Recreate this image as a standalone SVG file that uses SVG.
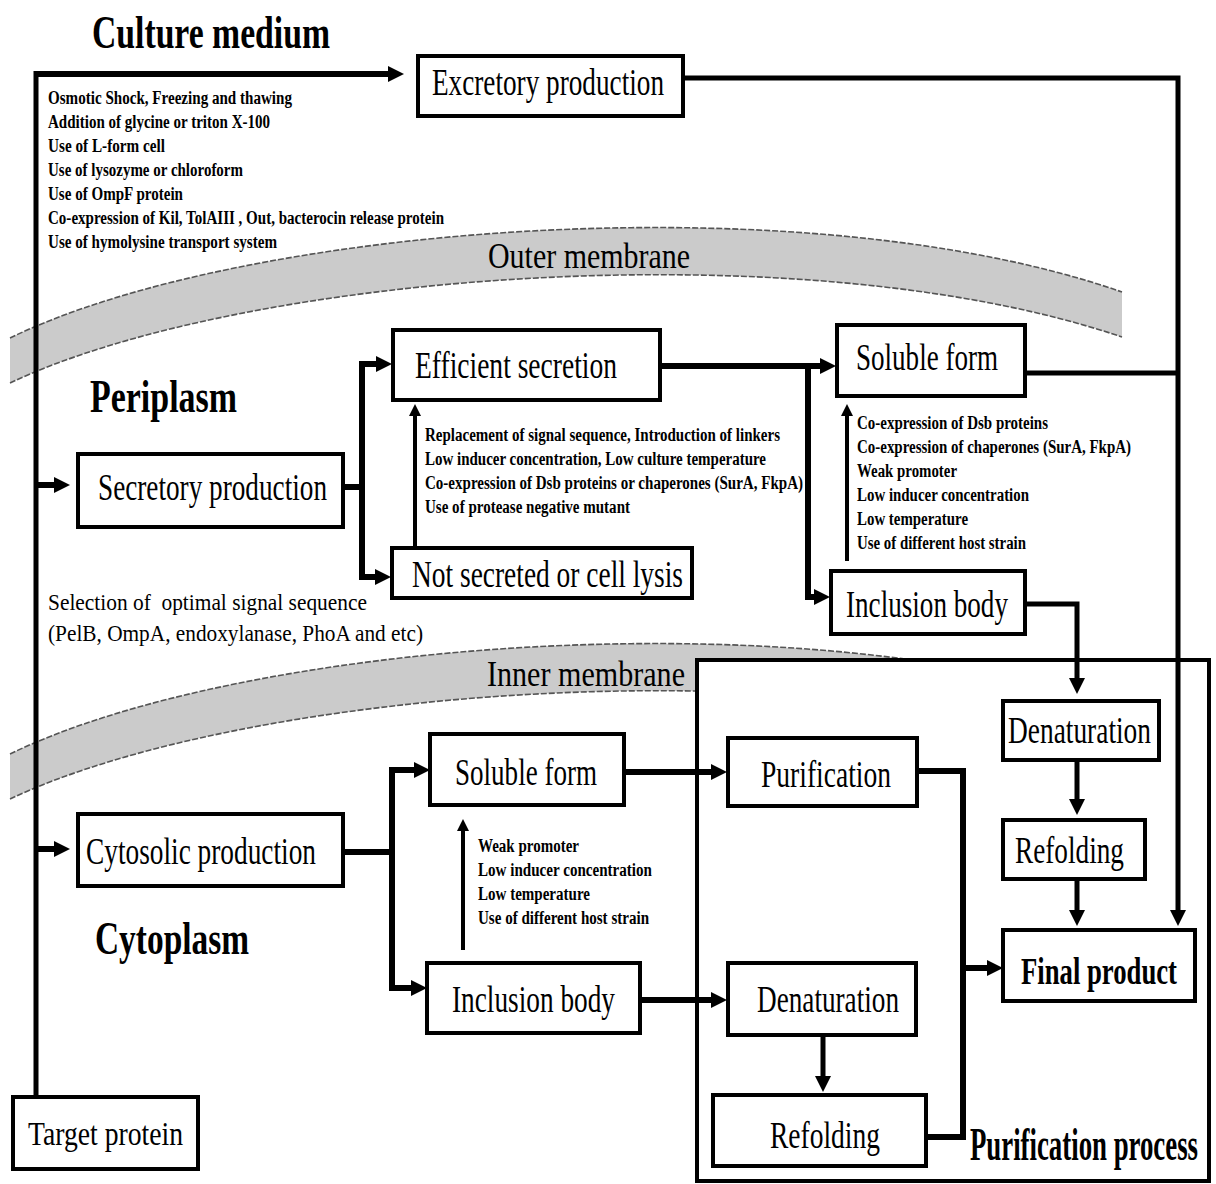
<svg xmlns="http://www.w3.org/2000/svg" width="1216" height="1184" viewBox="0 0 1216 1184">
<style>
text{font-family:"Liberation Serif","Times New Roman",serif;fill:#000}
.t{font-size:46px;font-weight:bold}
.m{font-size:36px}
.l{font-size:38px}
.lb{font-size:37px;font-weight:bold}
.tp{font-size:34px}
.s{font-size:18px;font-weight:bold}
.n{font-size:24px}
.box{fill:#fff;stroke:#000;stroke-width:4}
.band{fill:#cbcbcb;stroke:none}
.edge{fill:none;stroke:#555;stroke-width:1.6;stroke-dasharray:6 2}
.c{fill:none;stroke:#000;stroke-width:6;stroke-linejoin:miter}
.c5{fill:none;stroke:#000;stroke-width:5;stroke-linejoin:miter}
.c4{fill:none;stroke:#000;stroke-width:4}
</style>
<defs>
<marker id="ah" markerUnits="userSpaceOnUse" viewBox="0 0 16 16" markerWidth="16" markerHeight="16" refX="1" refY="8" orient="auto"><path d="M0,0 L16,8 L0,16 z" fill="#000"/></marker>
<marker id="as" markerUnits="userSpaceOnUse" viewBox="0 0 12 12" markerWidth="12" markerHeight="12" refX="1" refY="6" orient="auto"><path d="M0,0 L12,6 L0,12 z" fill="#000"/></marker>
</defs>
<rect width="1216" height="1184" fill="#fff"/>

<g id="outer-membrane">
<path class="band" d="M10,338 C240,226 800,180 1122,292 L1122,337 C800,228 240,274 10,383 Z"/>
<path class="edge" d="M10,338 C240,226 800,180 1122,292"/>
<path class="edge" d="M10,383 C240,274 800,228 1122,337"/>
<text class="m" x="488" y="268" textLength="202" lengthAdjust="spacingAndGlyphs">Outer membrane</text>
</g>
<g id="inner-membrane">
<g transform="translate(0,416)">
<path class="band" d="M10,338 C240,226 800,180 1122,292 L1122,337 C800,228 240,274 10,383 Z"/>
<path class="edge" d="M10,338 C240,226 800,180 1122,292"/>
<path class="edge" d="M10,383 C240,274 800,228 1122,337"/>
</g>
<text class="m" x="487" y="686" textLength="198" lengthAdjust="spacingAndGlyphs">Inner membrane</text>
</g>

<g id="purification-process">
<rect class="box" x="697" y="660" width="512" height="521"/>
<text class="t" x="970" y="1160" textLength="228" lengthAdjust="spacingAndGlyphs">Purification process</text>
</g>

<g id="labels">
<text class="t" x="92" y="48" textLength="238" lengthAdjust="spacingAndGlyphs">Culture medium</text>
<text class="t" x="90" y="412" textLength="147" lengthAdjust="spacingAndGlyphs">Periplasm</text>
<text class="t" x="95" y="954" textLength="154" lengthAdjust="spacingAndGlyphs">Cytoplasm</text>
<g id="excretion-methods">
<text class="s" x="48" y="104" textLength="244" lengthAdjust="spacingAndGlyphs">Osmotic Shock, Freezing and thawing</text>
<text class="s" x="48" y="128" textLength="222" lengthAdjust="spacingAndGlyphs">Addition of glycine or triton X-100</text>
<text class="s" x="48" y="152" textLength="117" lengthAdjust="spacingAndGlyphs">Use of L-form cell</text>
<text class="s" x="48" y="176" textLength="195" lengthAdjust="spacingAndGlyphs">Use of lysozyme or chloroform</text>
<text class="s" x="48" y="200" textLength="135" lengthAdjust="spacingAndGlyphs">Use of OmpF protein</text>
<text class="s" x="48" y="224" textLength="396" lengthAdjust="spacingAndGlyphs">Co-expression of Kil, TolAIII , Out, bacterocin release protein</text>
<text class="s" x="48" y="248" textLength="229" lengthAdjust="spacingAndGlyphs">Use of hymolysine transport system</text>
</g>
<g id="secretion-methods">
<text class="s" x="425" y="441" textLength="355" lengthAdjust="spacingAndGlyphs">Replacement of signal sequence, Introduction of linkers</text>
<text class="s" x="425" y="465" textLength="341" lengthAdjust="spacingAndGlyphs">Low inducer concentration, Low culture temperature</text>
<text class="s" x="425" y="489" textLength="378" lengthAdjust="spacingAndGlyphs">Co-expression of Dsb proteins or chaperones (SurA, FkpA)</text>
<text class="s" x="425" y="513" textLength="205" lengthAdjust="spacingAndGlyphs">Use of protease negative mutant</text>
</g>
<g id="periplasm-soluble-methods">
<text class="s" x="857" y="429" textLength="191" lengthAdjust="spacingAndGlyphs">Co-expression of Dsb proteins</text>
<text class="s" x="857" y="453" textLength="274" lengthAdjust="spacingAndGlyphs">Co-expression of chaperones (SurA, FkpA)</text>
<text class="s" x="857" y="477" textLength="100" lengthAdjust="spacingAndGlyphs">Weak promoter</text>
<text class="s" x="857" y="501" textLength="172" lengthAdjust="spacingAndGlyphs">Low inducer concentration</text>
<text class="s" x="857" y="525" textLength="111" lengthAdjust="spacingAndGlyphs">Low temperature</text>
<text class="s" x="857" y="549" textLength="169" lengthAdjust="spacingAndGlyphs">Use of different host strain</text>
</g>
<g id="cytoplasm-soluble-methods">
<text class="s" x="478" y="852" textLength="101" lengthAdjust="spacingAndGlyphs">Weak promoter</text>
<text class="s" x="478" y="876" textLength="174" lengthAdjust="spacingAndGlyphs">Low inducer concentration</text>
<text class="s" x="478" y="900" textLength="112" lengthAdjust="spacingAndGlyphs">Low temperature</text>
<text class="s" x="478" y="924" textLength="171" lengthAdjust="spacingAndGlyphs">Use of different host strain</text>
</g>
<g id="signal-sequence">
<text class="n" x="48" y="610" textLength="319" lengthAdjust="spacingAndGlyphs" xml:space="preserve">Selection of  optimal signal sequence</text>
<text class="n" x="48" y="641" textLength="375" lengthAdjust="spacingAndGlyphs">(PelB, OmpA, endoxylanase, PhoA and etc)</text>
</g>
</g>

<g id="connectors">
<path class="c5" d="M36,1097 V71"/>
<path class="c" d="M34,74 H389" marker-end="url(#ah)"/>
<path class="c5" d="M683,78 H1178 V911" marker-end="url(#ah)"/>
<path class="c5" d="M1025,373 H1178"/>
<path class="c" d="M38,485 H55" marker-end="url(#ah)"/>
<path class="c" d="M343,487 H362"/>
<path class="c" d="M362,487 V364 H377" marker-end="url(#ah)"/>
<path class="c" d="M362,487 V577 H376" marker-end="url(#ah)"/>
<path class="c4" d="M415,546 V415" marker-end="url(#as)"/>
<path class="c" d="M660,366 H821" marker-end="url(#ah)"/>
<path class="c" d="M808,366 V597 H815" marker-end="url(#ah)"/>
<path class="c4" d="M847,561 V415" marker-end="url(#as)"/>
<path class="c5" d="M1025,604 H1077 V679" marker-end="url(#ah)"/>
<path class="c5" d="M1077,762 V800" marker-end="url(#ah)"/>
<path class="c5" d="M1077,881 V911" marker-end="url(#ah)"/>
<path class="c" d="M38,849 H55" marker-end="url(#ah)"/>
<path class="c" d="M343,852 H392"/>
<path class="c" d="M392,852 V770 H415" marker-end="url(#ah)"/>
<path class="c" d="M392,852 V988 H412" marker-end="url(#ah)"/>
<path class="c4" d="M463,950 V830" marker-end="url(#as)"/>
<path class="c" d="M624,772 H712" marker-end="url(#ah)"/>
<path class="c" d="M640,1000 H712" marker-end="url(#ah)"/>
<path class="c5" d="M823,1037 V1077" marker-end="url(#ah)"/>
<path class="c" d="M917,771 H963 V1137 H926"/>
<path class="c" d="M963,968 H988" marker-end="url(#ah)"/>
</g>

<g id="excretory-production"><rect class="box" x="418" y="56" width="265" height="60"/><text class="l" x="432" y="95" textLength="232" lengthAdjust="spacingAndGlyphs">Excretory production</text></g>
<g id="efficient-secretion"><rect class="box" x="393" y="330" width="267" height="70"/><text class="l" x="415" y="378" textLength="202" lengthAdjust="spacingAndGlyphs">Efficient secretion</text></g>
<g id="periplasm-soluble-form"><rect class="box" x="837" y="325" width="188" height="71"/><text class="l" x="856" y="370" textLength="142" lengthAdjust="spacingAndGlyphs">Soluble form</text></g>
<g id="secretory-production"><rect class="box" x="78" y="454" width="265" height="73"/><text class="l" x="98" y="500" textLength="229" lengthAdjust="spacingAndGlyphs">Secretory production</text></g>
<g id="not-secreted"><rect class="box" x="392" y="548" width="300" height="50"/><text class="l" x="412" y="587" textLength="271" lengthAdjust="spacingAndGlyphs">Not secreted or cell lysis</text></g>
<g id="periplasm-inclusion-body"><rect class="box" x="831" y="571" width="194" height="63"/><text class="l" x="846" y="617" textLength="162" lengthAdjust="spacingAndGlyphs">Inclusion body</text></g>
<g id="denaturation-right"><rect class="box" x="1003" y="701" width="156" height="59"/><text class="l" x="1008" y="743" textLength="143" lengthAdjust="spacingAndGlyphs">Denaturation</text></g>
<g id="refolding-right"><rect class="box" x="1003" y="820" width="142" height="59"/><text class="l" x="1015" y="863" textLength="109" lengthAdjust="spacingAndGlyphs">Refolding</text></g>
<g id="final-product"><rect class="box" x="1003" y="930" width="192" height="71"/><text class="lb" x="1021" y="984" textLength="156" lengthAdjust="spacingAndGlyphs">Final product</text></g>
<g id="cytosolic-production"><rect class="box" x="78" y="814" width="265" height="72"/><text class="l" x="86" y="864" textLength="230" lengthAdjust="spacingAndGlyphs">Cytosolic production</text></g>
<g id="cytoplasm-soluble-form"><rect class="box" x="430" y="734" width="194" height="71"/><text class="l" x="455" y="785" textLength="142" lengthAdjust="spacingAndGlyphs">Soluble form</text></g>
<g id="purification"><rect class="box" x="728" y="738" width="189" height="68"/><text class="l" x="761" y="787" textLength="130" lengthAdjust="spacingAndGlyphs">Purification</text></g>
<g id="cytoplasm-inclusion-body"><rect class="box" x="427" y="963" width="213" height="70"/><text class="l" x="452" y="1012" textLength="163" lengthAdjust="spacingAndGlyphs">Inclusion body</text></g>
<g id="denaturation-lower"><rect class="box" x="728" y="963" width="188" height="72"/><text class="l" x="757" y="1012" textLength="142" lengthAdjust="spacingAndGlyphs">Denaturation</text></g>
<g id="refolding-lower"><rect class="box" x="713" y="1095" width="213" height="71"/><text class="l" x="770" y="1148" textLength="110" lengthAdjust="spacingAndGlyphs">Refolding</text></g>
<g id="target-protein"><rect class="box" x="13" y="1097" width="185" height="72"/><text class="tp" x="28" y="1145" textLength="155" lengthAdjust="spacingAndGlyphs">Target protein</text></g>
</svg>
